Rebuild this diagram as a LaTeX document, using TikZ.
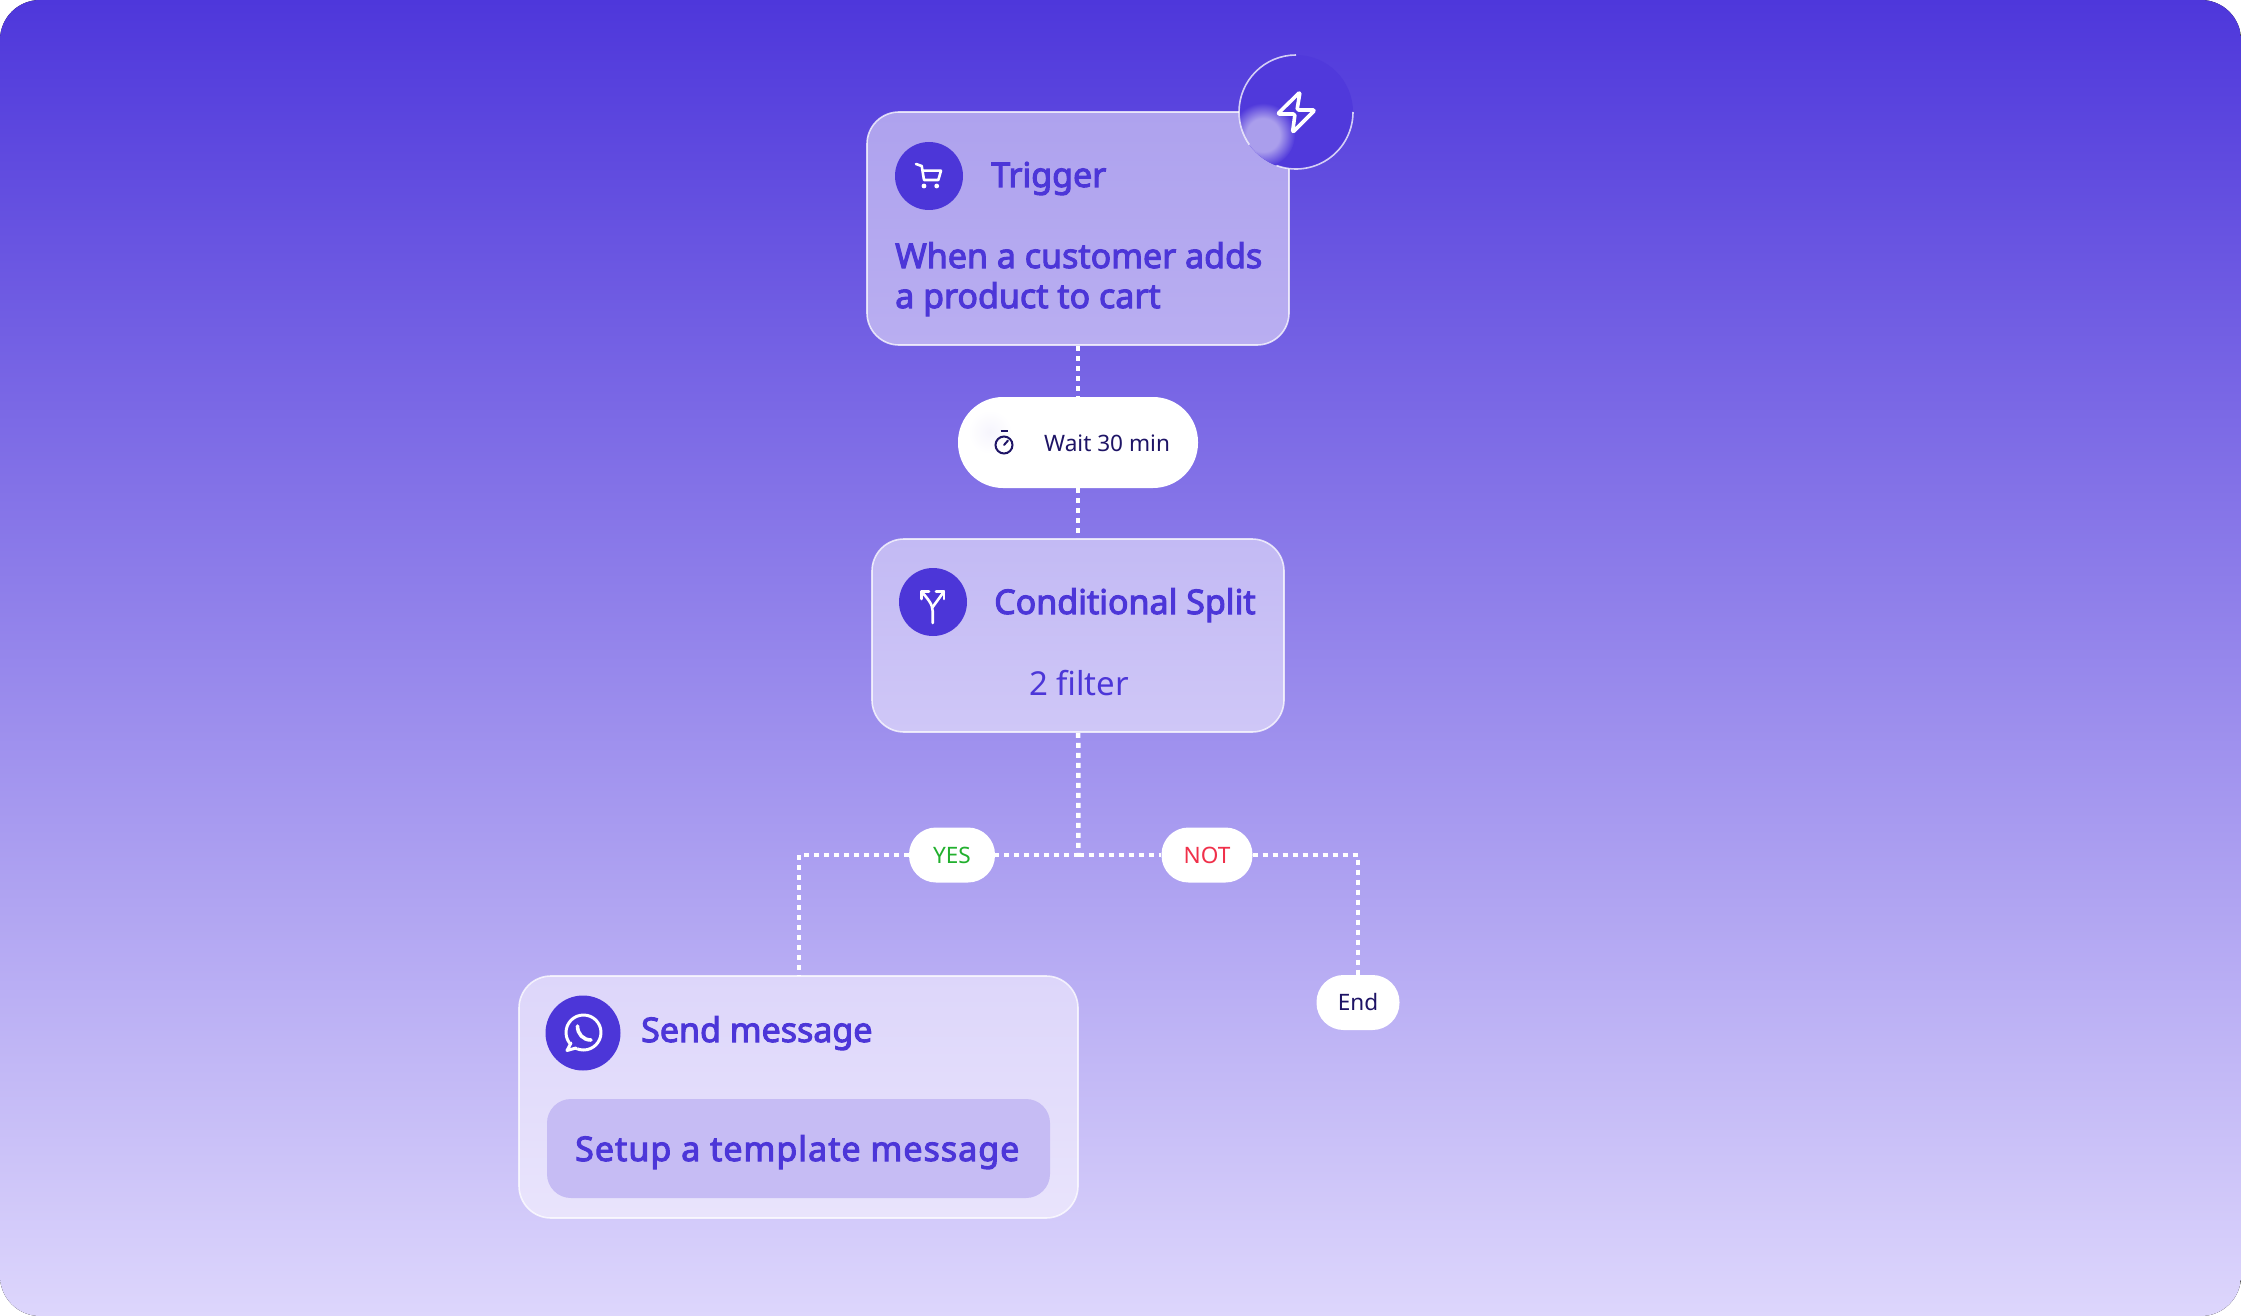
\documentclass[tikz,border=0pt]{standalone}
\usepackage{fontspec}
\setmainfont{Noto Sans}
\newfontfamily\medfont[FakeBold=3]{Noto Sans}
\newfontfamily\widefont[FakeBold=3,LetterSpace=3]{Noto Sans}
\usetikzlibrary{positioning}
\definecolor{violet}{HTML}{4C36D8}
\definecolor{navy}{HTML}{1E1466}
\definecolor{okgreen}{HTML}{22B02E}
\definecolor{notred}{HTML}{F0304A}
\definecolor{skytop}{HTML}{4E37DB}
\definecolor{skybottom}{HTML}{DDD6FC}
\definecolor{badgeblue}{HTML}{5039DB}
\definecolor{badgeglow}{HTML}{AA9EEC}
\pgfdeclareradialshading{glow}{\pgfpoint{0bp}{0bp}}{color(0bp)=(badgeglow);color(13bp)=(badgeglow);color(25bp)=(badgeblue);color(50bp)=(badgeblue)}
\tikzset{
  card/.style={draw=white,draw opacity=0.75,line width=1.6pt,rounded corners=32pt,inner sep=0pt,minimum width=#1},
  iconbg/.style={circle,fill=violet,inner sep=0pt,minimum size=#1},
  pill/.style={fill=white,rounded corners=#1,inner sep=0pt},
  link/.style={white,line width=4.5pt,dash pattern=on 5pt off 5pt},
  icon/.style={draw=white,line width=2.6pt,line cap=round,line join=round},
  head/.style={font=\medfont\fontsize{34}{40}\selectfont,text=violet,inner sep=0pt,anchor=base west},
  small/.style={font=\fontsize{22.6}{28}\selectfont,inner sep=0pt}
}
\begin{document}
\begin{tikzpicture}[x=1pt,y=-1pt]
  \useasboundingbox (0,0) rectangle (2241,1316);
  % backdrop
  \fill[rounded corners=40pt,top color=skytop,bottom color=skybottom] (0,0) rectangle (2241,1316);
  % Trigger
  \node[card=422pt,minimum height=233pt,top color={rgb,255:red,174;green,162;blue,238},bottom color={rgb,255:red,185;green,174;blue,241}] (trigger) at (1078,228.5) {};
  \node[iconbg=68pt] (cart) at (929,176) {};
  \node[head] (triggertitle) at (991,187) {Trigger};
  \node[head,align=left,anchor=north west] (triggertext) at (895,242) {When a customer adds\\a product to cart};
  \draw[icon] (916,164) -- (921.7,166) -- (924,180) -- (938.3,180) -- (941,170.7) -- (922.7,170.7);
  \fill[white] (924,186) circle (2.4pt) (936.7,186) circle (2.4pt);
  % Badge
  \node[circle,fill=badgeblue,inner sep=0pt,minimum size=114pt] (badge) at (1296,112) {};
  \begin{scope}
    \clip (1296,112) circle (57pt);
    \shade[shading=glow] (1263,135) circle (32pt);
  \end{scope}
  \draw[white,opacity=0.75,line width=1.6pt] (1296,55) arc (90:215:57pt);
  \draw[white,opacity=0.75,line width=1.6pt] (1353,112) arc (0:-110:57pt);
  \draw[icon,line width=3.6pt,rounded corners=1.5pt] (1300,92) -- (1277.5,114) -- (1295,114) -- (1292.5,132.5) -- (1315,110) -- (1297,110) -- cycle;
  % Wait
  \node[pill=45pt,minimum width=240pt,minimum height=91pt] (wait) at (1078,442.5) {};
  \shade[inner color=violet!5!white,outer color=white] (990,432) circle (22pt);
  \node[small,text=navy,anchor=base west] (waittext) at (1044,451) {Wait 30 min};
  \draw[navy,line width=2pt] (1004,445) circle (8.5pt);
  \draw[navy,line width=2pt] (1000.5,431) -- (1007.5,431);
  \draw[navy,line width=2pt,line cap=round] (1004,445) -- (1008,440.5);
  % Conditional Split
  \node[card=412pt,minimum height=193pt,top color={rgb,255:red,195;green,186;blue,244},bottom color={rgb,255:red,207;green,199;blue,247}] (split) at (1078,635.5) {};
  \node[iconbg=68pt] (splitbg) at (933,602) {};
  \node[head] (splittitle) at (994,614) {Conditional Split};
  \node[head,font=\fontsize{33}{40}\selectfont,anchor=base] (splittext) at (1079,695) {2 filter};
  \draw[icon] (932.7,623) -- (932.7,611) .. controls (932.7,604) and (927,598) .. (921.5,591.5);
  \draw[icon] (932.7,607) -- (944,591.5);
  \draw[icon] (921.5,599) -- (921.5,591.5) -- (929,591.5);
  \draw[icon] (936,591.5) -- (944,591.5) -- (944,599);
  % Send message
  \node[card=559pt,minimum height=242pt,top color={rgb,255:red,221;green,214;blue,250},bottom color={rgb,255:red,233;green,228;blue,252}] (send) at (798.5,1097) {};
  \node[iconbg=75pt] (sendbg) at (583,1033) {};
  \node[head] (sendtitle) at (641,1042) {Send message};
  \node[rounded corners=24pt,fill={rgb,255:red,198;green,188;blue,244},minimum width=503pt,minimum height=99pt,inner sep=0pt] (template) at (798.5,1148.5) {};
  \node[head,font=\widefont\fontsize{34}{40}\selectfont] (templatetext) at (575,1161) {Setup a template message};
  \draw[icon,line width=3pt] (583.5,1032.5) circle (17.5pt);
  \fill[violet] (572,1041) -- (578,1048) -- (566,1050) -- cycle;
  \draw[icon,line width=3pt] (571,1043) -- (567,1050.5) -- (576,1048);
  \draw[icon,line width=3.6pt] (577.5,1026) .. controls (577.5,1034) and (583,1040) .. (591,1040);
  % YES / NOT / End
  \node[pill=27pt,minimum width=86pt,minimum height=55pt,small,text=okgreen] (yes) at (952,855) {YES};
  \node[pill=27pt,minimum width=91pt,minimum height=55pt,small,text=notred] (not) at (1207,855) {NOT};
  \node[pill=27pt,minimum width=83pt,minimum height=55pt,small,text=navy] (end) at (1358,1002.5) {End};
  % links
  \coordinate (fork) at (1078.5,855);
  \coordinate (sendin) at (799,976);
  \draw[link] (trigger) -- (wait);
  \draw[link] (wait) -- (split);
  \draw[link] (split) -- (fork);
  \draw[link] (fork) -- (yes);
  \draw[link] (yes) -| (sendin);
  \draw[link] (fork) -- (not);
  \draw[link] (not) -| (end);
\end{tikzpicture}
\end{document}
